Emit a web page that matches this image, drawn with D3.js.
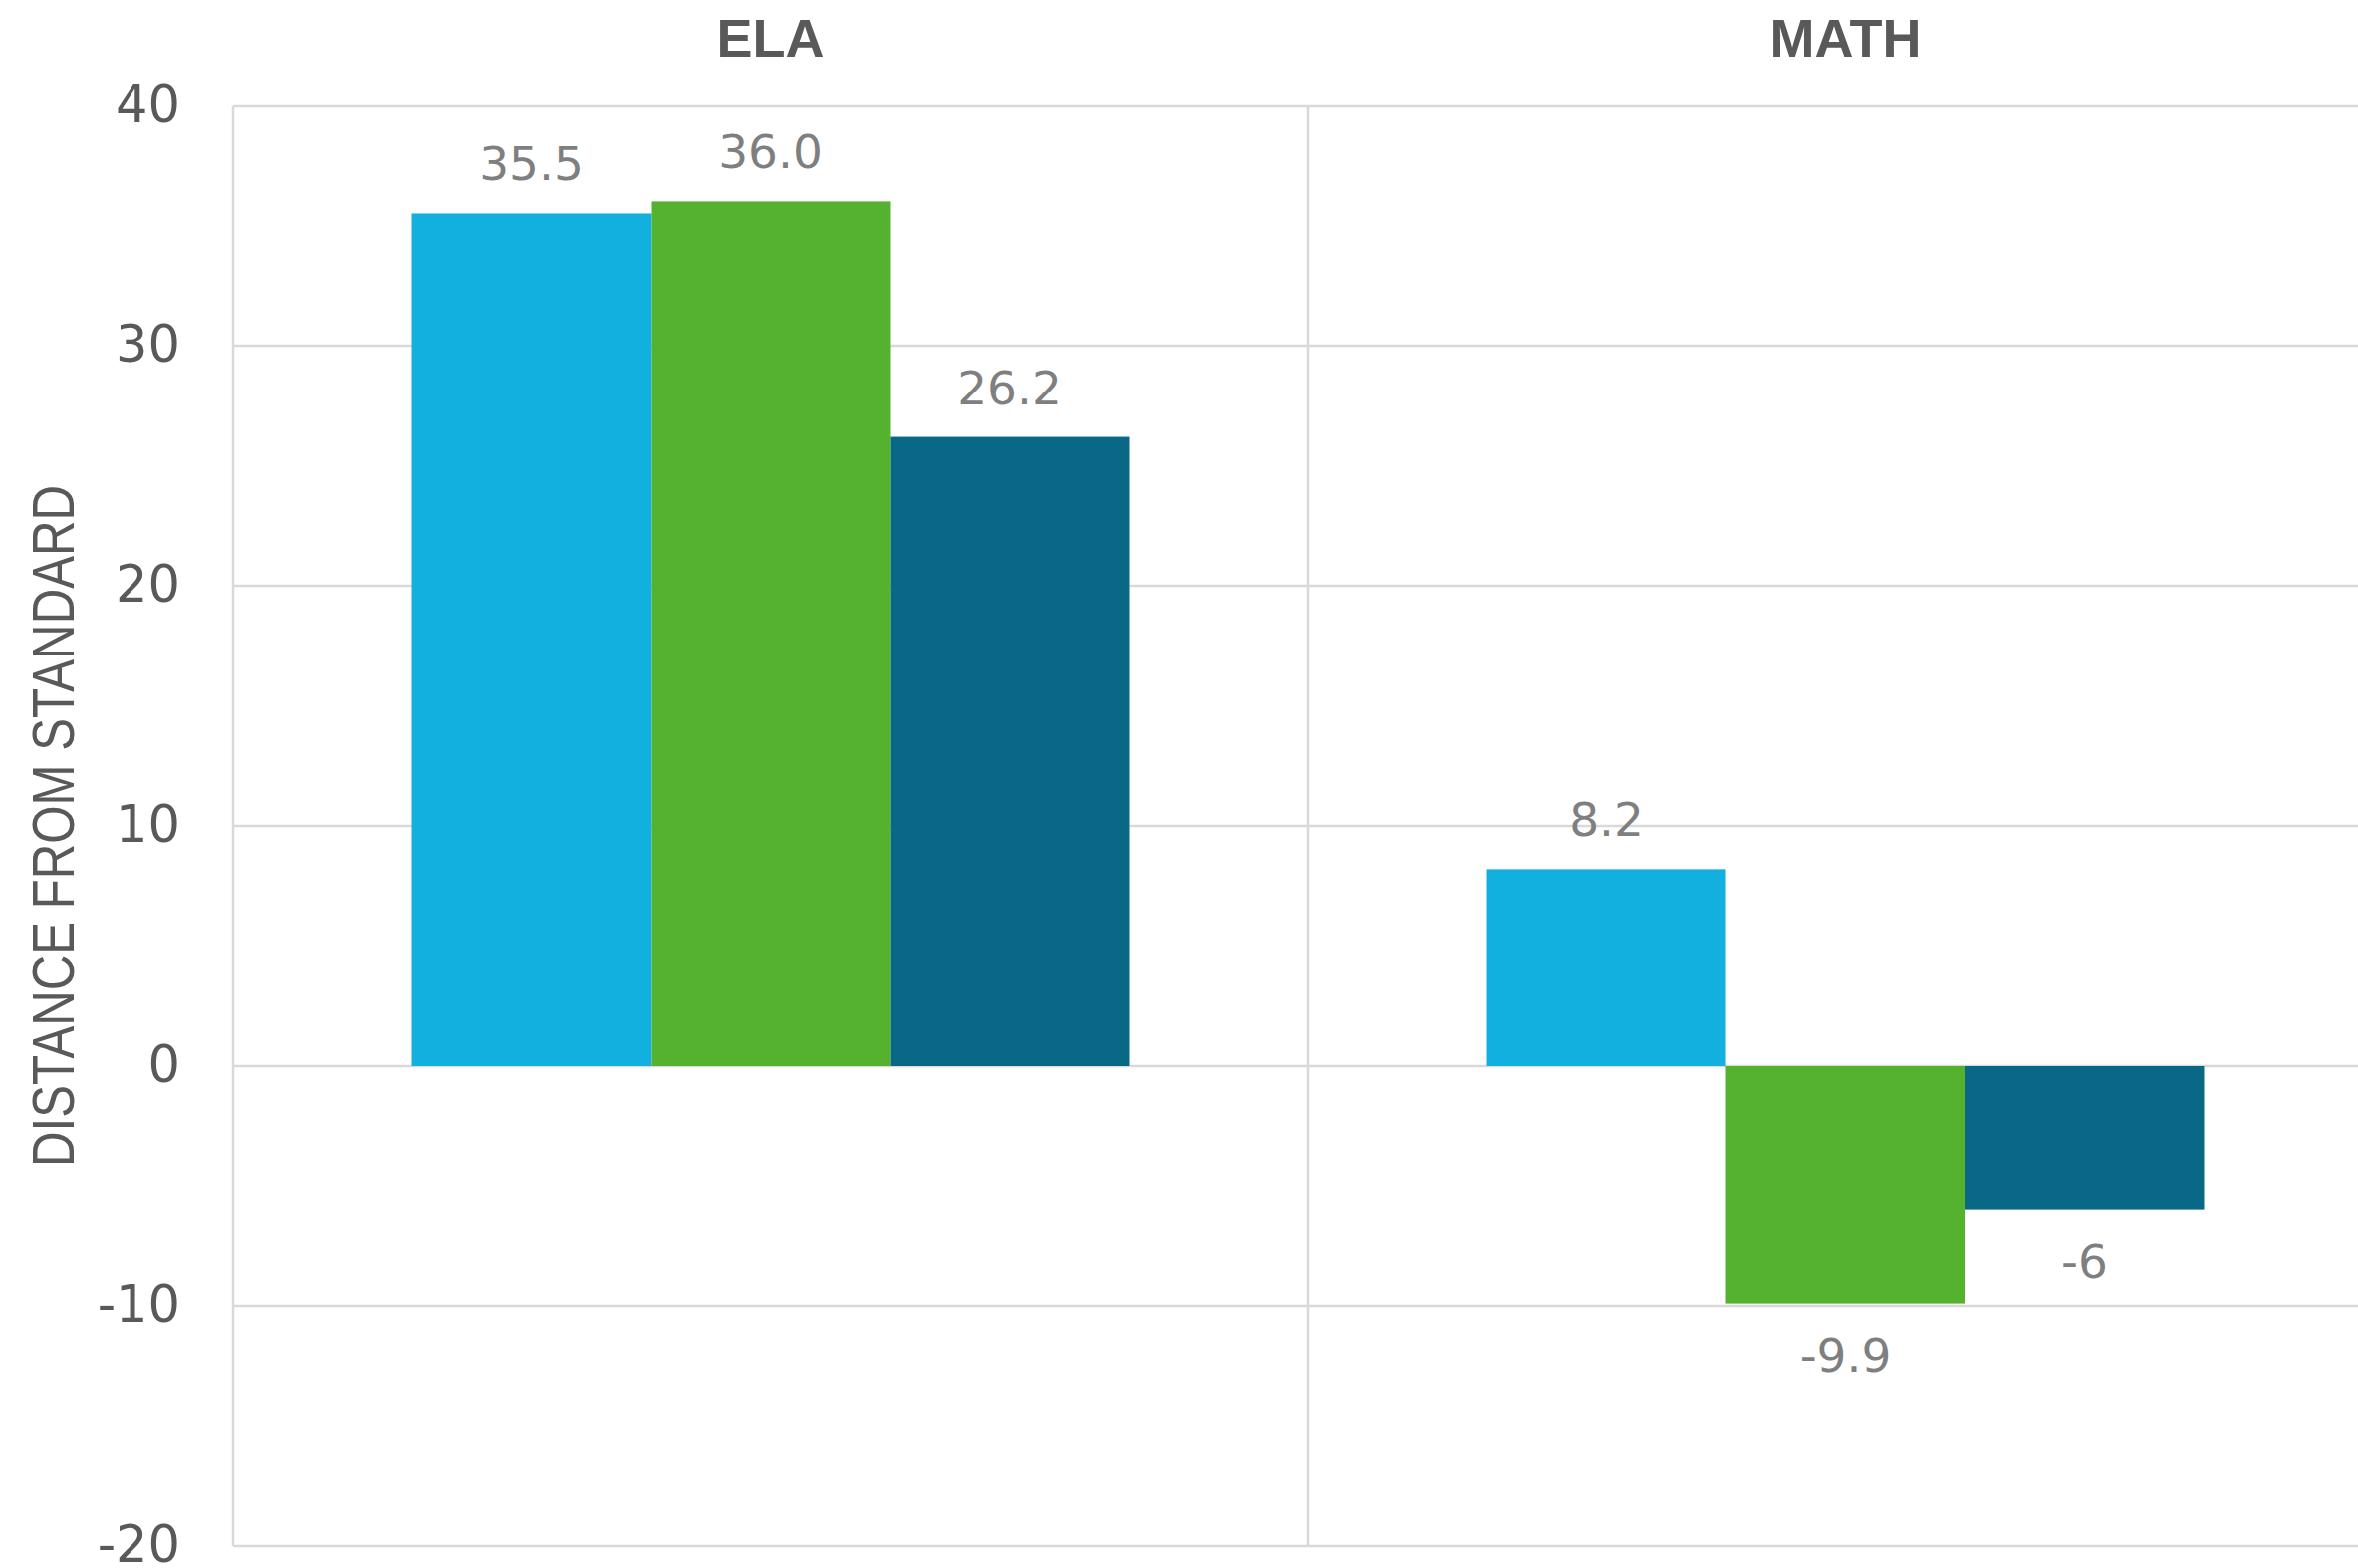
<!DOCTYPE html>
<html>
<head>
<meta charset="utf-8">
<script src="https://cdn.jsdelivr.net/npm/d3@7"></script>
<style>
  html, body { margin: 0; padding: 0; background: #ffffff; }
  svg { display: block; }
</style>
</head>
<body>
<svg id="chart" width="2367" height="1574"></svg>
<script>
// Subjects along the x axis
const subjects = ["ELA", "MATH"];
// Three bars per subject
const seriesKeys = ["Series 1", "Series 2", "Series 3"];
const seriesColors = ["#11b0de", "#54b22f", "#096885"];
// Distance from standard for each subject, one array per series
const series1 = [35.5, 8.2];
const series2 = [36.0, -9.9];
const series3 = [26.2, -6];
// Printed labels (as shown on the bars)
const labels1 = ["35.5", "8.2"];
const labels2 = ["36.0", "-9.9"];
const labels3 = ["26.2", "-6"];
// Y axis ticks
const yTicks = [-20, -10, 0, 10, 20, 30, 40];
const yTitle = "DISTANCE FROM STANDARD";

const seriesValues = [series1, series2, series3];
const seriesLabels = [labels1, labels2, labels3];

const rows = [];
subjects.forEach((s, i) => {
  seriesKeys.forEach((k, j) => {
    rows.push({ subject: s, key: k, value: seriesValues[j][i], label: seriesLabels[j][i], color: seriesColors[j] });
  });
});

const svg = d3.select("#chart");

const plotLeft = 234, plotRight = 2392, plotTop = 106, plotBottom = 1552;

const x0 = d3.scaleBand().domain(subjects).range([plotLeft, plotRight]).padding(0);
const x1 = d3.scaleBand().domain(seriesKeys).range([0, x0.bandwidth()]).paddingInner(0).paddingOuter(0.748);
const y = d3.scaleLinear().domain([-20, 40]).range([plotBottom, plotTop]);

const gridColor = "#d9d9d9";

// Horizontal gridlines
svg.append("g").selectAll("line").data(yTicks).join("line")
  .attr("x1", plotLeft).attr("x2", plotRight)
  .attr("y1", d => y(d)).attr("y2", d => y(d))
  .attr("stroke", gridColor).attr("stroke-width", 2.5);

// Vertical separators at the start of each subject band
svg.append("g").selectAll("line").data(subjects).join("line")
  .attr("x1", d => x0(d)).attr("x2", d => x0(d))
  .attr("y1", plotTop).attr("y2", plotBottom)
  .attr("stroke", gridColor).attr("stroke-width", 2.5);

// Y axis labels (plain hyphen for negatives)
const yAxis = d3.axisLeft(y).tickValues(yTicks).tickSize(0).tickPadding(53).tickFormat(d => String(d));
const yg = svg.append("g").attr("transform", `translate(${plotLeft},0)`).call(yAxis);
yg.select(".domain").remove();
yg.selectAll("text")
  .attr("font-family", "'DejaVu Sans', sans-serif")
  .attr("font-size", 51)
  .attr("dy", "0.3em")
  .attr("fill", "#595959");

// Y axis title
svg.append("text")
  .attr("transform", `translate(74, 829) rotate(-90)`)
  .attr("text-anchor", "middle")
  .attr("font-family", "'Liberation Sans', Arial, sans-serif")
  .attr("font-size", 60)
  .attr("textLength", 684)
  .attr("lengthAdjust", "spacingAndGlyphs")
  .attr("fill", "#595959")
  .text(yTitle);

// Subject titles above each band
svg.append("g").selectAll("text").data(subjects).join("text")
  .attr("x", d => x0(d) + x0.bandwidth() / 2)
  .attr("y", 57)
  .attr("text-anchor", "middle")
  .attr("font-family", "'Liberation Sans', Arial, sans-serif")
  .attr("font-weight", "bold")
  .attr("font-size", 54)
  .attr("fill", "#595959")
  .text(d => d);

// Bars
svg.append("g").selectAll("rect").data(rows).join("rect")
  .attr("x", d => x0(d.subject) + x1(d.key))
  .attr("width", x1.bandwidth())
  .attr("y", d => y(Math.max(0, d.value)))
  .attr("height", d => Math.abs(y(d.value) - y(0)))
  .attr("fill", d => d.color);

// Value labels
svg.append("g").selectAll("text").data(rows).join("text")
  .attr("x", d => x0(d.subject) + x1(d.key) + x1.bandwidth() / 2)
  .attr("y", d => d.value >= 0 ? y(d.value) - 33 : y(d.value) + 68)
  .attr("text-anchor", "middle")
  .attr("font-family", "'DejaVu Sans', sans-serif")
  .attr("font-size", 47)
  .attr("fill", "#7f7f7f")
  .text(d => d.label);
</script>
</body>
</html>
